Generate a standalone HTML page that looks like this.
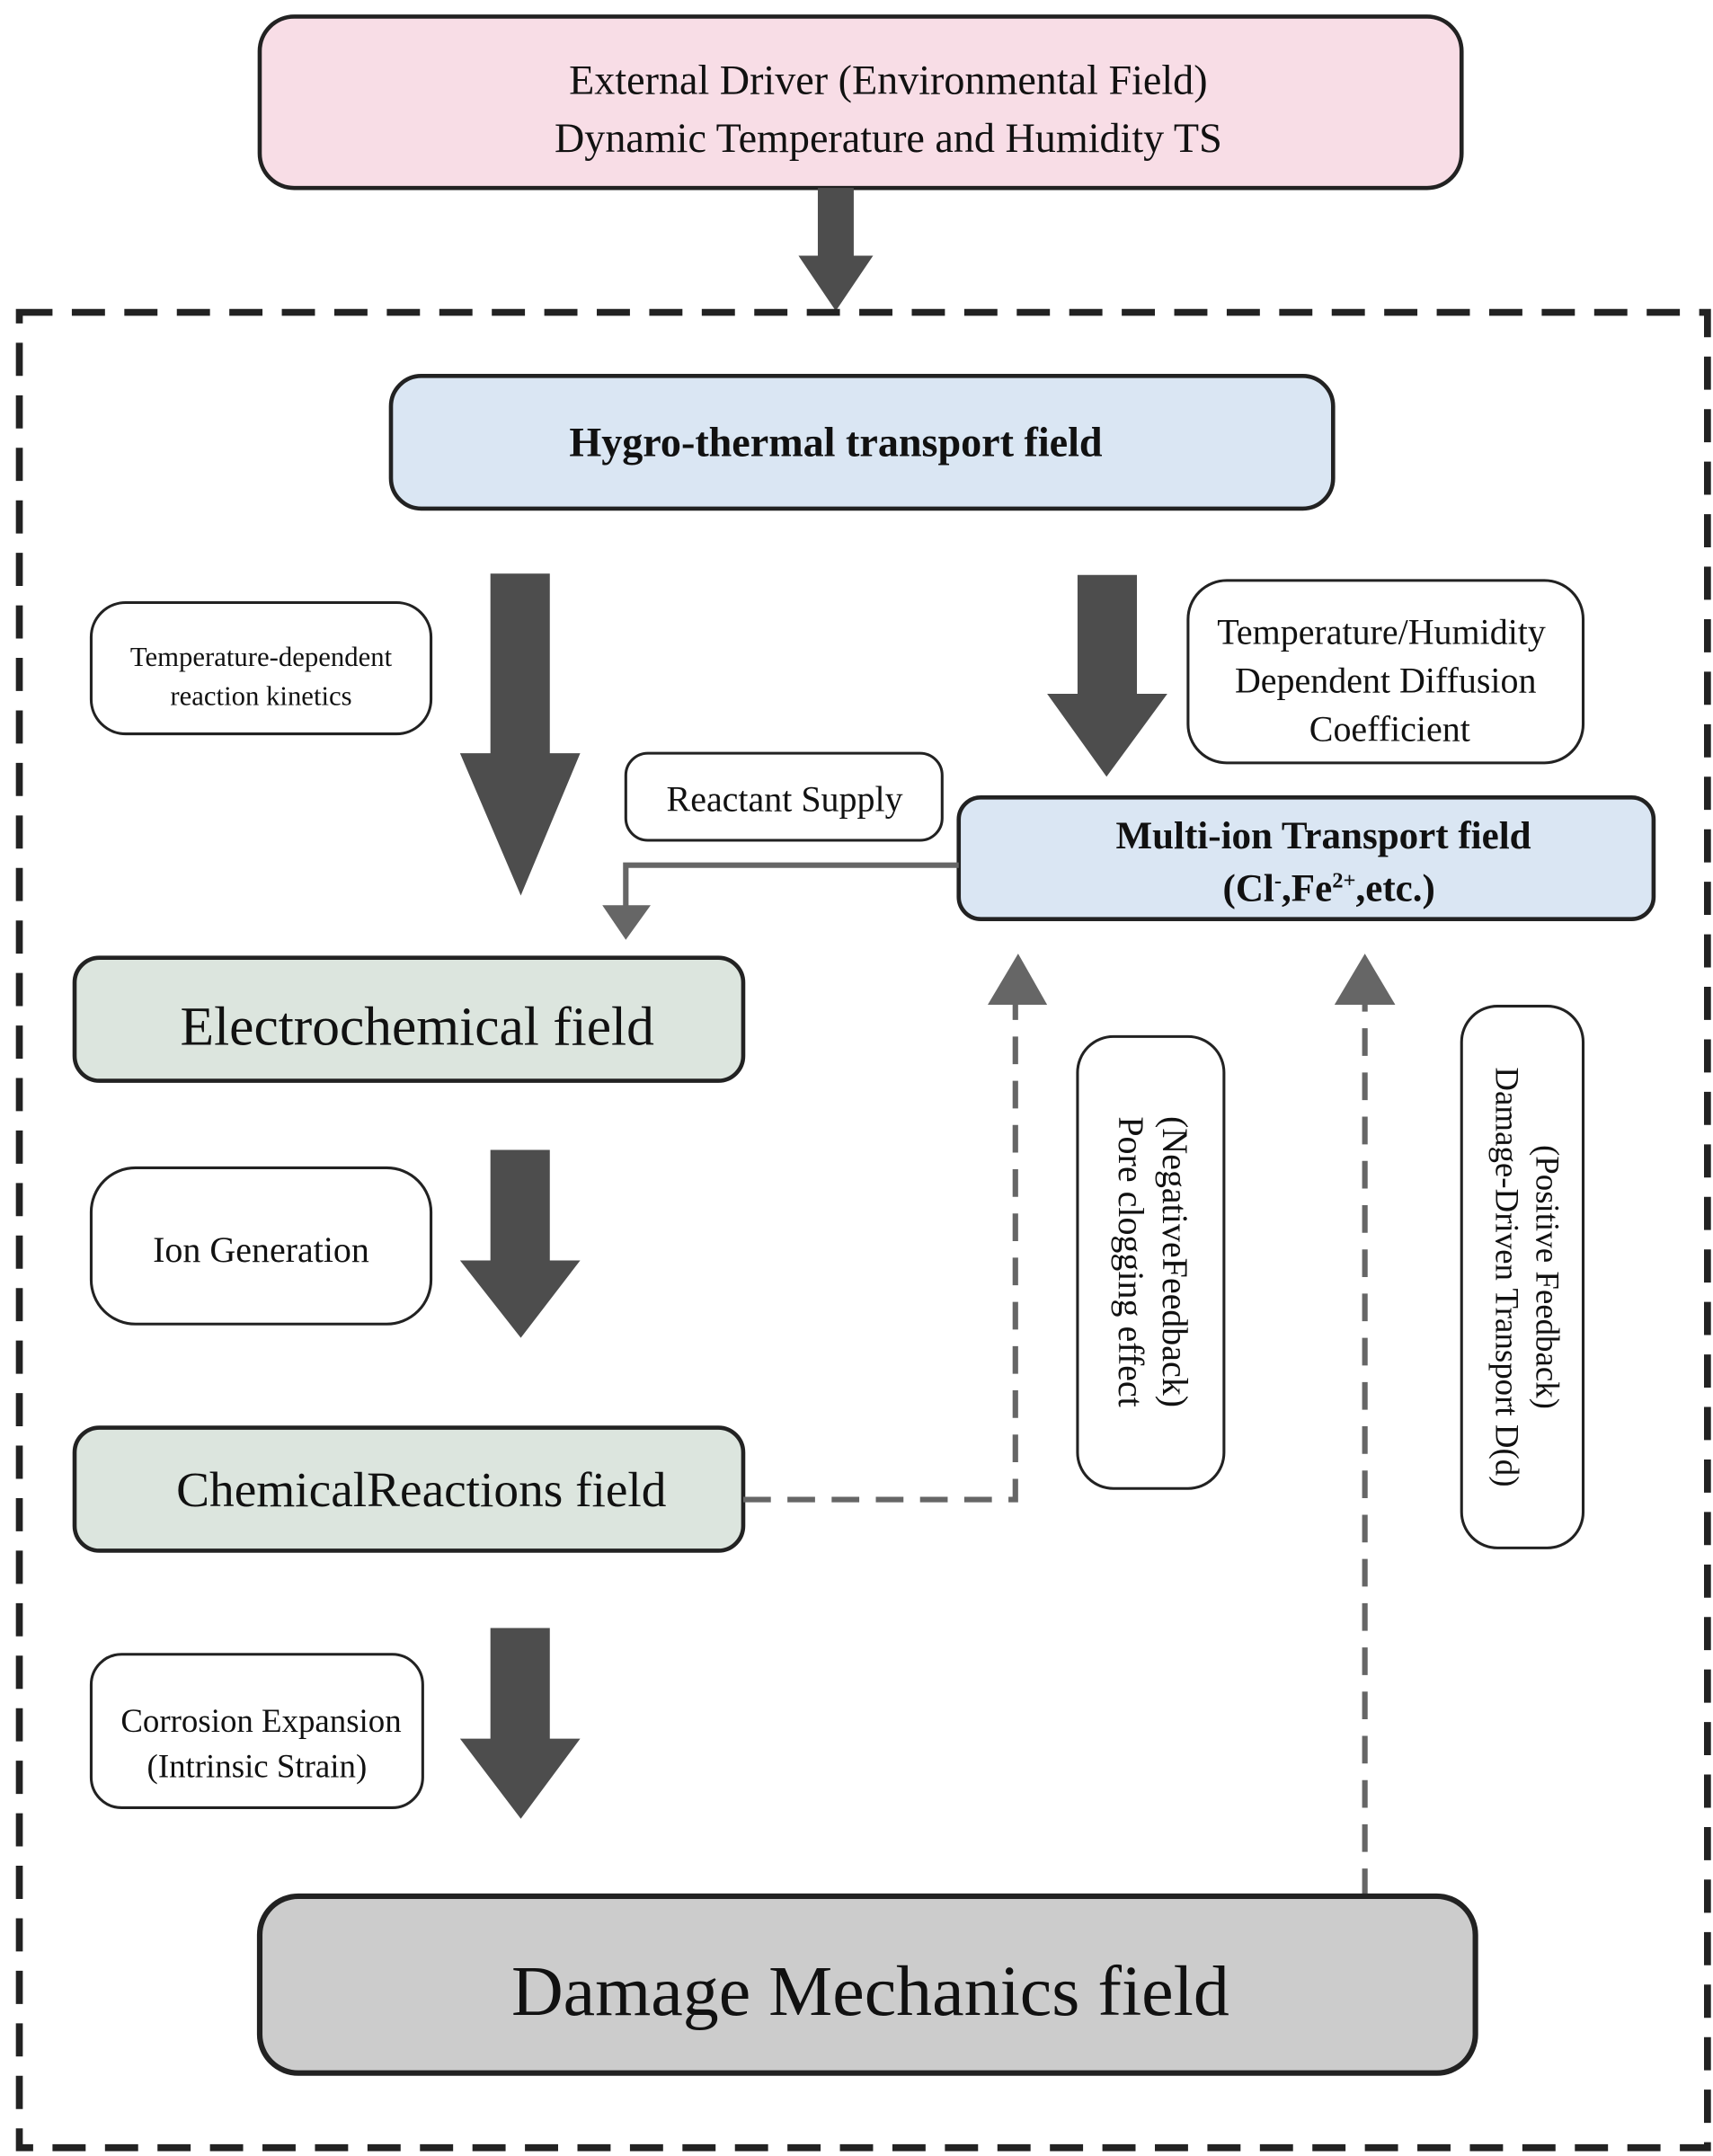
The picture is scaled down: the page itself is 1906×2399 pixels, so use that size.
<!DOCTYPE html>
<html><head><meta charset="utf-8"><style>html,body{margin:0;padding:0;background:#fff}svg{display:block}</style></head>
<body>
<svg width="1906" height="2399" viewBox="0 0 1240 1560" preserveAspectRatio="none" xmlns="http://www.w3.org/2000/svg" font-family="Liberation Serif, serif" fill="#111">
<rect x="188" y="12" width="870" height="124" rx="25" fill="#f8dde6" stroke="#222" stroke-width="3"/>
<text x="643" y="68" font-size="30" text-anchor="middle">External Driver (Environmental Field)</text>
<text x="643" y="110" font-size="30" text-anchor="middle">Dynamic Temperature and Humidity TS</text>
<polygon points="592,136 618,136 618,185 632,185 605,225 578,185 592,185" fill="#4d4d4d"/>
<rect x="14" y="226" width="1222" height="1328" fill="none" stroke="#222" stroke-width="5" stroke-dasharray="24,14"/>
<rect x="283" y="272" width="682" height="96" rx="22" fill="#dae6f3" stroke="#222" stroke-width="3"/>
<text x="605" y="330" font-size="30" font-weight="bold" text-anchor="middle">Hygro-thermal transport field</text>
<polygon points="355,415 398,415 398,545 420,545 377,648 333,545 355,545" fill="#4d4d4d"/>
<rect x="66" y="436" width="246" height="95" rx="25" fill="#fff" stroke="#222" stroke-width="2"/>
<text x="189" y="482" font-size="20" text-anchor="middle">Temperature-dependent</text>
<text x="189" y="510" font-size="20" text-anchor="middle">reaction kinetics</text>
<polygon points="780,416 823,416 823,502 845,502 801,562 758,502 780,502" fill="#4d4d4d"/>
<rect x="860" y="420" width="286" height="132" rx="28" fill="#fff" stroke="#222" stroke-width="2"/>
<text x="1000" y="466" font-size="26" text-anchor="middle">Temperature/Humidity</text>
<text x="1003" y="501" font-size="26" text-anchor="middle">Dependent Diffusion</text>
<text x="1006" y="536" font-size="26" text-anchor="middle">Coefficient</text>
<rect x="453" y="545" width="229" height="63" rx="16" fill="#fff" stroke="#222" stroke-width="2"/>
<text x="568" y="587" font-size="26" text-anchor="middle">Reactant Supply</text>
<rect x="694" y="577" width="503" height="88" rx="16" fill="#dae6f3" stroke="#222" stroke-width="3"/>
<text x="958" y="614" font-size="28" font-weight="bold" text-anchor="middle">Multi-ion Transport field</text>
<text x="962" y="652" font-size="28" font-weight="bold" text-anchor="middle">(Cl<tspan font-size="16" dy="-10">-</tspan><tspan dy="10">,Fe</tspan><tspan font-size="16" dy="-10">2+</tspan><tspan dy="10">,etc.)</tspan></text>
<polyline points="694,626 453,626 453,657" fill="none" stroke="#666" stroke-width="4"/>
<polygon points="436,655 471,655 453,680" fill="#666"/>
<rect x="54" y="693" width="484" height="89" rx="18" fill="#dce5de" stroke="#222" stroke-width="3"/>
<text x="302" y="756" font-size="40" text-anchor="middle">Electrochemical field</text>
<polygon points="355,832 398,832 398,912 420,912 377,968 333,912 355,912" fill="#4d4d4d"/>
<rect x="66" y="845" width="246" height="113" rx="32" fill="#fff" stroke="#222" stroke-width="2"/>
<text x="189" y="913" font-size="26" text-anchor="middle">Ion Generation</text>
<rect x="54" y="1033" width="484" height="89" rx="18" fill="#dce5de" stroke="#222" stroke-width="3"/>
<text x="305" y="1090" font-size="36" text-anchor="middle">ChemicalReactions field</text>
<polyline points="538,1085 735,1085 735,725" fill="none" stroke="#666" stroke-width="4" stroke-dasharray="20,12"/>
<polygon points="715,727 758,727 737,690" fill="#666"/>
<rect x="780" y="750" width="106" height="327" rx="26" fill="#fff" stroke="#222" stroke-width="2"/>
<text transform="translate(842,913) rotate(90)" font-size="26" text-anchor="middle">(NegativeFeedback)</text>
<text transform="translate(810,913) rotate(90)" font-size="26" text-anchor="middle">Pore clogging effect</text>
<polygon points="355,1178 398,1178 398,1258 420,1258 377,1316 333,1258 355,1258" fill="#4d4d4d"/>
<rect x="66" y="1197" width="240" height="111" rx="22" fill="#fff" stroke="#222" stroke-width="2"/>
<text x="189" y="1253" font-size="24" text-anchor="middle">Corrosion Expansion</text>
<text x="186" y="1286" font-size="24" text-anchor="middle">(Intrinsic Strain)</text>
<polyline points="988,1372 988,725" fill="none" stroke="#666" stroke-width="4" stroke-dasharray="20,12"/>
<polygon points="966,727 1010,727 988,690" fill="#666"/>
<rect x="1058" y="728" width="88" height="392" rx="26" fill="#fff" stroke="#222" stroke-width="2"/>
<text transform="translate(1112,924) rotate(90)" font-size="24" text-anchor="middle">(Positive Feedback)</text>
<text transform="translate(1083,924) rotate(90)" font-size="24" text-anchor="middle">Damage-Driven Transport D(d)</text>
<rect x="188" y="1372" width="880" height="128" rx="28" fill="#cccccc" stroke="#222" stroke-width="4"/>
<text x="630" y="1458" font-size="52" text-anchor="middle">Damage Mechanics field</text>
</svg>
</body></html>
